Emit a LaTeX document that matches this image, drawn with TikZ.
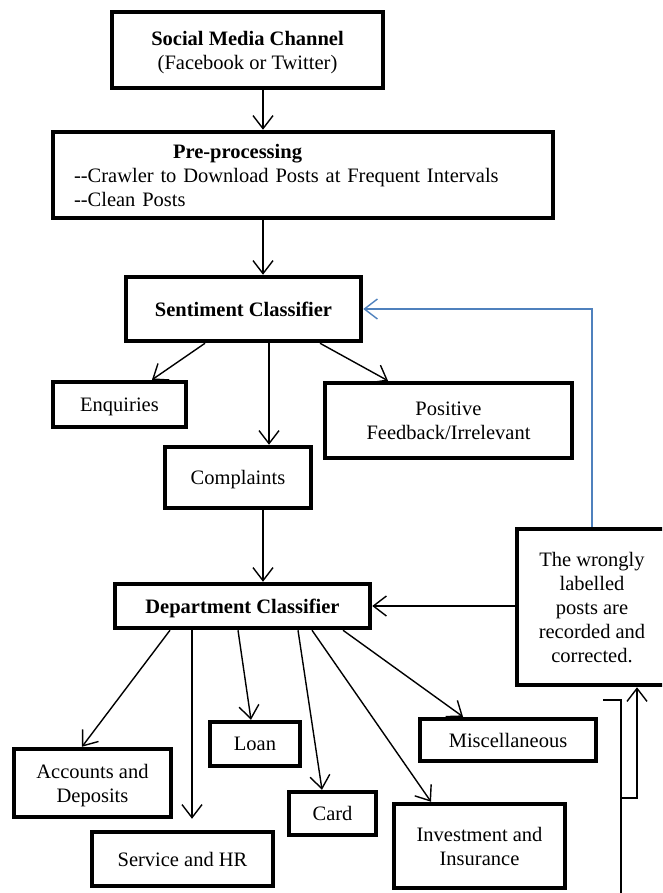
\documentclass[tikz,border=0pt]{standalone}
\usepackage{fontspec}
\setmainfont{Liberation Serif}[Ligatures=TeXOff]
\usepackage{xcolor}
\usetikzlibrary{arrows.meta,positioning,calc}
\definecolor{fbblue}{RGB}{79,129,189}

\begin{document}
\begin{tikzpicture}[x=1pt,y=-1pt,
	plainbox/.style={draw,line width=4.5pt,align=center,inner sep=0pt,
		font=\fontsize{20.5}{24}\selectfont},
	box/.style={plainbox,text depth=0pt},
	arr/.style={-{Straight Barb[length=13pt,width=20pt]},line width=1.4pt},
	feedback/.style={arr,draw=fbblue}]
	\useasboundingbox (0,0) rectangle (662,893);
	\clip (0,0) rectangle (662,893);
	
	% top of the pipeline
	\node[box,minimum width=271pt,minimum height=76pt] (social) at (247.5,50)
		{\textbf{Social Media Channel}\\(Facebook or Twitter)};
	\node[plainbox,align=left,text width=458pt,minimum width=500pt,minimum height=86pt] (pre) at (303,175)
		{\hspace*{99pt}\textbf{Pre-processing}\\--Crawler to Download Posts at Frequent Intervals\\--Clean Posts};
	\node[box,minimum width=235pt,minimum height=64pt] (sent) at (243.5,309) {\textbf{Sentiment Classifier}};
	
	% sentiment classes
	\node[box,minimum width=133pt,minimum height=45pt] (enq) at (119.5,404.5) {Enquiries};
	\node[box,minimum width=146pt,minimum height=61pt] (compl) at (238,477.5) {Complaints};
	\node[box,minimum width=247pt,minimum height=75pt] (pos) at (448.5,420.5) {Positive\\Feedback/Irrelevant};
	
	\node[box,minimum width=255pt,minimum height=44pt] (dept) at (242.5,606) {\textbf{Department Classifier}};
	\node[box,minimum width=150pt,minimum height=156pt] (wrong) at (592,607)
		{The wrongly\\labelled\\posts are\\recorded and\\corrected.};
	
	% departments
	\node[box,minimum width=157pt,minimum height=68pt] (acc) at (92.5,783) {Accounts and\\Deposits};
	\node[box,minimum width=181pt,minimum height=54pt] (serv) at (182.5,859) {Service and HR};
	\node[box,minimum width=90pt,minimum height=44pt] (loan) at (255,744) {Loan};
	\node[box,minimum width=87pt,minimum height=43pt] (card) at (332.5,813.5) {Card};
	\node[box,minimum width=171pt,minimum height=84pt] (inv) at (479.5,846) {Investment and\\Insurance};
	\node[box,minimum width=176pt,minimum height=42pt] (misc) at (508,740) {Miscellaneous};
	
	% main flow
	\draw[arr] ([xshift=15.5pt]social.south) -- ([xshift=15.5pt]social.south |- pre.north);
	\draw[arr] ([xshift=-40pt]pre.south) -- ([xshift=-40pt]pre.south |- sent.north);
	\draw[arr] ([xshift=-38.5pt]sent.south) -- ([xshift=32.5pt]enq.north);
	\draw[arr] ([xshift=25.5pt]sent.south) -- ([xshift=25.5pt]sent.south |- compl.north);
	\draw[arr] ([xshift=76.5pt]sent.south) -- ([xshift=-60.5pt]pos.north);
	\draw[arr] ([xshift=25pt]compl.south) -- ([xshift=25pt]compl.south |- dept.north);
	
	% arrows to the departments
	\draw[arr] ([xshift=-72.5pt]dept.south) -- ([xshift=-10.5pt]acc.north);
	\draw[arr,shorten >=11pt] ([xshift=-50.5pt]dept.south) -- ([xshift=-50.5pt]dept.south |- serv.north);
	\draw[arr] ([xshift=-4.5pt]dept.south) -- ([xshift=-4pt]loan.north);
	\draw[arr] ([xshift=55.5pt]dept.south) -- ([xshift=-10.5pt]card.north);
	\draw[arr] ([xshift=69.5pt]dept.south) -- ([xshift=-48.5pt]inv.north);
	\draw[arr] ([xshift=100.5pt]dept.south) -- ([xshift=-45pt]misc.north);
	
	% corrections fed back
	\draw[arr] (wrong.west |- dept.east) -- (dept.east);
	\draw[feedback] (wrong.north) |- (sent.east);
	
	% bracket at the lower right
	\coordinate (brtop) at (603,700);
	\coordinate (brbot) at (621,900);
	\coordinate (brjoin) at (621,798);
	\draw[line width=1.4pt] (brtop) -| (brbot);
	\draw[arr] (brjoin) -| ([xshift=45pt]wrong.south);
\end{tikzpicture}
\end{document}
